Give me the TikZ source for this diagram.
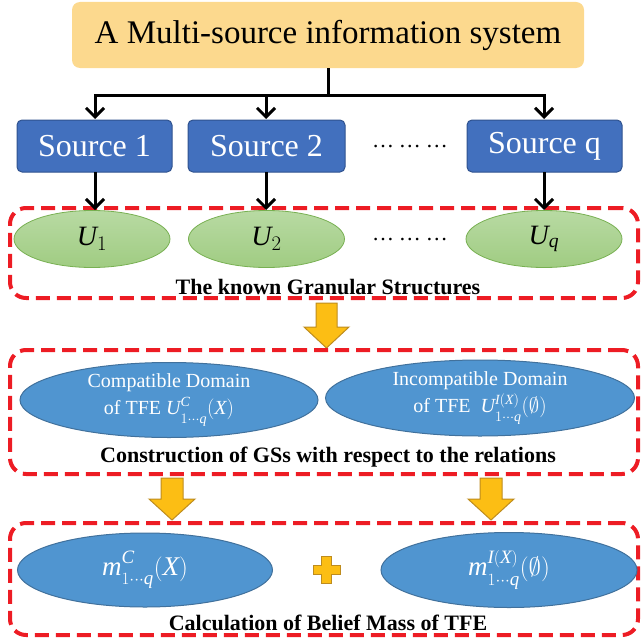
\documentclass[tikz,border=0pt]{standalone}
\usepackage{fontspec}
\setmainfont{Liberation Serif}
\usetikzlibrary{arrows.meta,shapes.geometric}
\definecolor{topfill}{RGB}{252,217,142}
\definecolor{srcfill}{RGB}{66,112,190}
\definecolor{srcdraw}{RGB}{47,82,143}
\definecolor{grtop}{RGB}{184,218,163}
\definecolor{grbot}{RGB}{160,204,130}
\definecolor{grdraw}{RGB}{120,176,82}
\definecolor{bluefill}{RGB}{80,149,208}
\definecolor{bluedraw}{RGB}{65,113,156}
\definecolor{dashred}{RGB}{237,28,36}
\definecolor{yarrfill}{RGB}{252,190,20}
\definecolor{yarrdraw}{RGB}{190,140,30}
\newcommand{\supsub}[2]{^{\raisebox{3pt}{$\scriptstyle #1$}}_{\raisebox{-3pt}{$\scriptstyle #2$}}}
\newcommand{\supsubs}[2]{^{\raisebox{1pt}{$\scriptstyle #1$}}_{\raisebox{-3pt}{$\scriptstyle #2$}}}
\tikzset{
  topbox/.style={fill=topfill, rounded corners=8pt, minimum width=512pt, minimum height=66pt, inner sep=0pt, font=\fontsize{33}{36}\selectfont},
  srcbox/.style={fill=srcfill, draw=srcdraw, line width=1pt, rounded corners=5pt, minimum height=52pt, inner sep=0pt, text=white, font=\fontsize{32}{34}\selectfont},
  gell/.style={ellipse, top color=grtop, bottom color=grbot, draw=grdraw, line width=0.8pt, minimum width=156pt, minimum height=57pt, inner sep=0pt, font=\fontsize{28}{30}\selectfont},
  bell/.style={ellipse, fill=bluefill, draw=bluedraw, line width=1pt, inner sep=0pt, text=white, align=center},
  dbox/.style={draw=dashred, line width=4pt, dash pattern=on 14pt off 7pt, rounded corners=16pt, minimum width=628pt, inner sep=0pt},
  lbl/.style={font=\bfseries\fontsize{22}{24}\selectfont, inner sep=0pt},
  arr/.style={line width=3pt, -{Straight Barb[length=9pt,width=18pt]}},
  yarr/.style={fill=yarrfill, draw=yarrdraw, line width=1pt, line join=miter},
  dotsl/.style={font=\fontsize{22}{24}\selectfont, inner sep=0pt}
}
\begin{document}
\begin{tikzpicture}[x=1pt,y=-1pt]
\useasboundingbox (0,0) rectangle (642,642);
% top
\node[topbox] (top) at (328,35) {A Multi-source information system};
% sources
\node[srcbox, minimum width=155pt] (s1) at (94.5,146) {Source 1};
\node[srcbox, minimum width=157pt] (s2) at (266.5,146) {Source 2};
\node[srcbox, minimum width=155pt] (sq) at (544.5,146) {Source q};
\node[dotsl] (d1) at (410,147) {…\hspace{5pt}…\hspace{5pt}…};
% connectors top -> sources
\coordinate (j) at (328,95);
\draw[line width=3pt] (top.south) -- (j);
\draw[arr] (j) -| (95,119);
\draw[arr] (j) -| (266,119);
\draw[arr] (j) -| (544,119);
% box 1
\node[dbox, minimum height=90pt] (b1) at (324,253) {};
\node[gell] (u1) at (92,239) {$\mathit{U}_{1}$};
\node[gell] (u2) at (266.5,239) {$\mathit{U}_{2}$};
\node[gell] (uq) at (544,239) {$\mathit{U}_{\mathit{q}}$};
\node[dotsl] (d2) at (410,240) {…\hspace{5pt}…\hspace{5pt}…};
\draw[arr] (95,172) -- (95,210);
\draw[arr] (266,172) -- (266,210);
\draw[arr] (544,172) -- (544,210);
\node[lbl] (l1) at (328,287) {The known Granular Structures};
% yellow arrow 1
\draw[yarr] (316,303) -- (337,303) -- (337,327) -- (349,327) -- (326.5,348) -- (304,327) -- (316,327) -- cycle;
% box 2
\node[dbox, minimum height=124pt] (b2) at (324,412) {};
\node[bell, minimum width=298pt, minimum height=75pt, font=\fontsize{20}{24}\selectfont] (c) at (169,400) {Compatible Domain\\[3pt] of TFE $\mathit{U}\supsubs{\mathit{C}}{1\cdots \mathit{q}}(\mathit{X})$};
\node[bell, minimum width=309pt, minimum height=76pt, font=\fontsize{20}{24}\selectfont] (i) at (480,398) {Incompatible Domain\\[3pt] of TFE\ \ $\mathit{U}\supsubs{\mathit{I}(\mathit{X})}{1\cdots \mathit{q}}(\emptyset)$};
\node[lbl] (l2) at (328,457) {Construction of GSs with respect to the relations};
% yellow arrows 2
\draw[yarr] (161,478) -- (183,478) -- (183,499) -- (195,499) -- (172,520) -- (149,499) -- (161,499) -- cycle;
\draw[yarr] (480,478) -- (502,478) -- (502,499) -- (514,499) -- (491,520) -- (468,499) -- (480,499) -- cycle;
% box 3
\node[dbox, minimum height=112pt] (b3) at (324,579) {};
\node[bell, minimum width=255pt, minimum height=74pt, font=\fontsize{27}{29}\selectfont] (m1) at (145,570) {$\mathit{m}\supsub{\mathit{C}}{1\cdots \mathit{q}}(\mathit{X})$};
\node[bell, minimum width=256pt, minimum height=75pt, font=\fontsize{27}{29}\selectfont] (m2) at (509,570) {$\mathit{m}\supsub{\mathit{I}(\mathit{X})}{1\cdots \mathit{q}}(\emptyset)$};
\draw[yarr] (321.5,556) -- (331.5,556) -- (331.5,565) -- (340,565) -- (340,574) -- (331.5,574) -- (331.5,583) -- (321.5,583) -- (321.5,574) -- (313,574) -- (313,565) -- (321.5,565) -- cycle;
\node[lbl] (l3) at (328,623) {Calculation of Belief Mass of TFE};
\end{tikzpicture}
\end{document}
